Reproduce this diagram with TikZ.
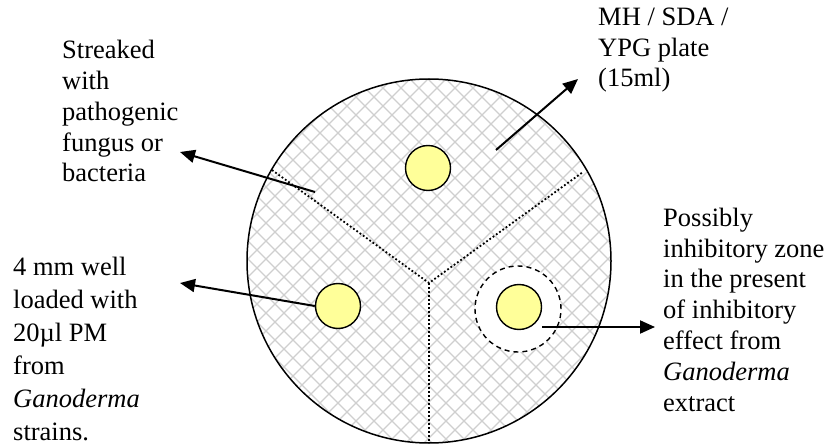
\documentclass[tikz,border=0pt]{standalone}
\usepackage{fontspec}
\setmainfont{Liberation Serif}
\usetikzlibrary{arrows.meta}
\definecolor{wellfill}{HTML}{FFFF99}
\definecolor{hatchgray}{HTML}{CFCFCF}
\begin{document}
\begin{tikzpicture}[x=1pt,y=-1pt,
  lbl/.style={anchor=base west, align=left, inner sep=0pt, font=\fontsize{26.5}{30.8}\selectfont},
  well/.style={circle, draw=black, line width=1.4pt, fill=wellfill, minimum size=45pt, inner sep=0pt},
  zone/.style={circle, draw=black, line width=1.4pt, dash pattern=on 5pt off 4pt, fill=white, minimum size=86pt, inner sep=0pt},
  arr/.style={-{Triangle[length=15pt,width=13pt]}, line width=2pt},
  divider/.style={line width=1.8pt, dash pattern=on 1.8pt off 2.2pt},
  hatch/.style={draw=hatchgray, line width=1.3pt},
  plate/.style={draw=black, line width=1.5pt}]
\useasboundingbox (0,0) rectangle (827,446);
\coordinate (c) at (429,261);
\begin{scope}
  \clip (c) circle (182);
  \foreach \x in {-400,-382,...,1000} {
    \draw[hatch] (\x,61) -- ++(400,400);
    \draw[hatch] (\x,61) -- ++(-400,400);
  }
\end{scope}
\draw[plate] (c) circle (182);
% dividers
\coordinate (j) at (429,283);
\coordinate (dl) at (272,170);
\coordinate (dr) at (583,172);
\coordinate (db) at (429,443);
\draw[divider] (dl) -- (j) -- (dr);
\draw[divider] (j) -- (db);
% zone and wells
\node[zone] (zone) at (518,309) {};
\node[well] (w1) at (428,168) {};
\node[well] (w2) at (338,306) {};
\node[well] (w3) at (519,307) {};
% labels (anchored at the baseline of the last line)
\node[lbl] (tstreak) at (62,182) {Streaked\\with\\pathogenic\\fungus or\\bacteria};
\node[lbl] (tmh) at (598,87) {MH / SDA /\\YPG plate\\(15ml)};
\node[lbl, font=\fontsize{26.5}{33}\selectfont] (twell) at (13,440) {4 mm well\\loaded with\\20µl PM\\from\\\textit{Ganoderma}\\strains.};
\node[lbl] (tzone) at (663,411) {Possibly\\inhibitory zone\\in the present\\of inhibitory\\effect from\\\textit{Ganoderma}\\extract};
% arrow ends
\coordinate (a1s) at (315,192);
\coordinate (a1e) at (180,152);
\coordinate (a2s) at (496,150);
\coordinate (a2e) at (578,79);
\coordinate (a3e) at (180,283);
\coordinate (a4s) at (542,327);
\coordinate (a4e) at (655,327);
\draw[arr] (a1s) -- (a1e);
\draw[arr] (a2s) -- (a2e);
\draw[arr] (w2.west) -- (a3e);
\draw[arr] (a4s) -- (a4e);
\end{tikzpicture}
\end{document}
